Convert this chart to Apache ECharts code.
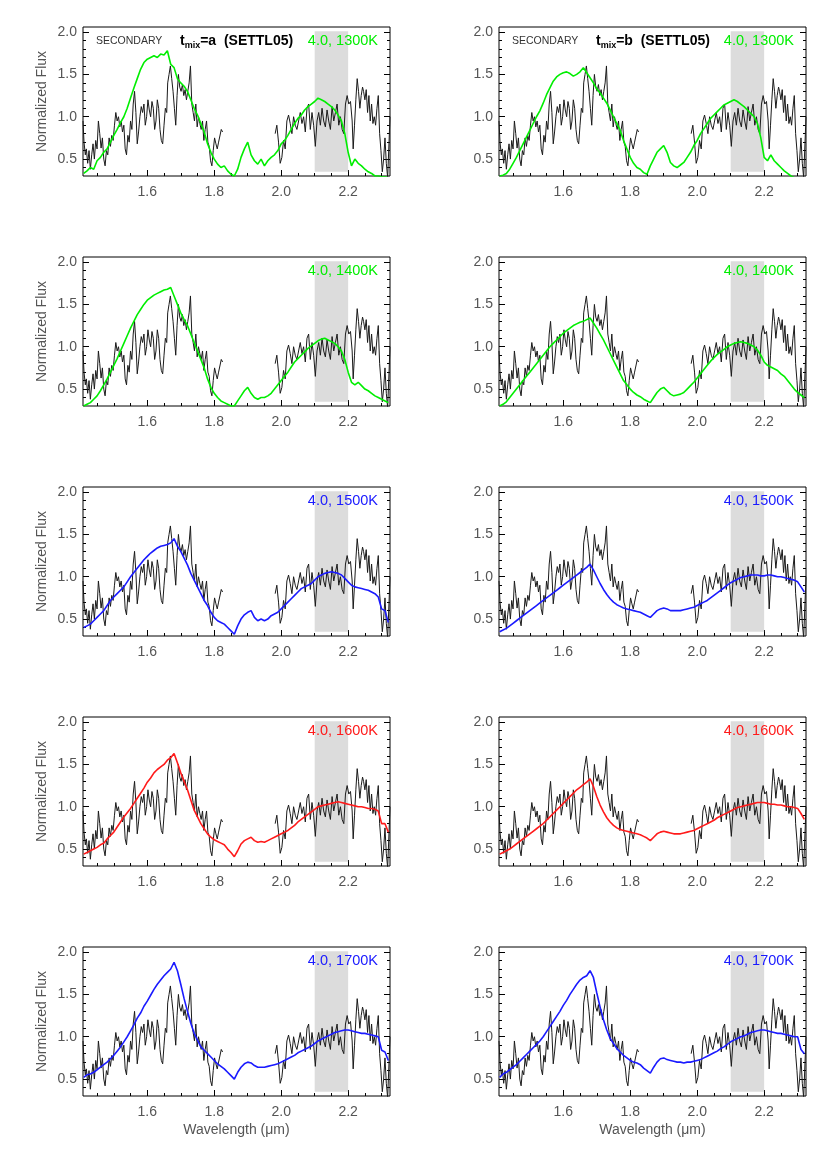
<!DOCTYPE html>
<html><head><meta charset="utf-8">
<script src="https://cdn.jsdelivr.net/npm/echarts@6/dist/echarts.min.js"></script>
<style>html,body{margin:0;padding:0;background:#fff}#c{width:830px;height:1150px}</style>
</head><body><div id="c"></div>
<script>
// ---------------- DATA ----------------
const xTickLabels = [1.6, 1.8, 2.0, 2.2];
const xMinorTicks = [1.45, 1.5, 1.55, 1.65, 1.7, 1.75, 1.85, 1.9, 1.95, 2.05, 2.1, 2.15, 2.25, 2.3];
const yTickLabels = [0.5, 1.0, 1.5, 2.0];
const yMinorTicks = [0.4, 0.6, 0.7, 0.8, 0.9, 1.1, 1.2, 1.3, 1.4, 1.6, 1.7, 1.8, 1.9];
const shadeBand = [2.1, 2.2];

// observed (secondary) spectrum, null = telluric gap
const obsWave = [1.408,1.411,1.415,1.418,1.422,1.426,1.430,1.434,1.438,1.442,1.446,1.450,1.454,1.458,1.462,1.466,1.470,1.474,1.478,1.482,1.486,1.490,1.494,1.498,1.502,1.506,1.510,1.514,1.518,1.522,1.526,1.530,1.534,1.538,1.542,1.546,1.550,1.554,1.558,1.562,1.566,1.570,1.574,1.578,1.582,1.586,1.590,1.594,1.598,1.602,1.606,1.610,1.614,1.618,1.622,1.626,1.630,1.634,1.638,1.642,1.646,1.650,1.654,1.658,1.661,1.665,1.669,1.673,1.677,1.681,1.685,1.689,1.693,1.697,1.701,1.705,1.709,1.713,1.717,1.721,1.725,1.729,1.733,1.737,1.741,1.745,1.749,1.753,1.757,1.761,1.765,1.769,1.773,1.777,1.781,1.785,1.789,1.793,1.797,1.801,1.805,1.809,1.813,1.817,1.821,1.825,
 1.900,
 1.982,1.987,1.992,1.997,2.002,2.007,2.012,2.017,2.022,2.027,2.032,2.037,2.042,2.047,2.052,2.057,2.062,2.067,2.072,2.077,2.082,2.087,2.092,2.097,2.102,2.107,2.112,2.117,2.122,2.127,2.132,2.137,2.142,2.147,2.152,2.157,2.162,2.167,2.172,2.177,2.182,2.187,2.192,2.197,2.202,2.207,2.212,2.215,2.219,2.223,2.227,2.231,2.235,2.239,2.243,2.246,2.250,2.254,2.258,2.262,2.266,2.270,2.274,2.278,2.282,2.286,2.290,2.294,2.298,2.302,2.306,2.310,2.314,2.318,2.322,2.325];
const obsFlux = [0.95,0.70,0.55,0.62,0.45,0.60,0.38,0.55,0.68,0.50,0.72,0.62,0.95,0.80,0.63,0.75,0.50,0.42,0.60,0.55,0.75,0.65,0.78,0.72,0.90,1.05,0.95,1.00,0.88,0.95,0.82,0.90,0.62,0.55,0.78,0.70,0.95,0.85,1.15,1.30,1.05,0.68,0.82,1.00,1.12,1.05,1.15,0.90,1.00,1.20,1.08,1.00,1.18,1.10,0.85,0.95,1.20,1.10,0.85,0.72,0.68,0.90,1.10,1.05,1.40,1.50,1.60,1.45,1.30,1.10,0.90,1.25,1.50,1.35,1.30,1.38,1.25,1.32,1.20,1.30,1.40,1.60,1.15,1.05,0.95,1.15,0.88,1.00,0.92,0.85,0.95,0.72,0.85,0.95,0.70,0.65,0.48,0.42,0.60,0.75,0.68,0.62,0.70,0.72,0.85,0.82,
 null,
 0.80,0.90,0.70,0.45,0.52,0.72,0.62,0.95,1.02,0.92,0.80,1.00,0.90,0.85,0.95,1.05,0.92,1.00,0.82,1.10,1.15,0.85,1.05,0.90,0.65,0.95,1.05,0.90,1.10,0.95,0.88,1.08,0.95,0.85,1.12,0.95,1.05,1.15,0.90,1.00,0.85,0.80,1.15,1.25,1.15,1.18,0.95,0.62,0.90,1.20,1.45,1.30,1.10,1.25,1.35,1.30,1.20,1.32,1.05,1.25,0.95,1.15,0.92,1.00,0.90,1.10,1.25,0.80,0.60,0.35,0.50,0.75,0.45,0.28,0.30,1.00];

// model wavelength grid
const modelWave = [1.41,1.42,1.43,1.44,1.45,1.46,1.47,1.48,1.49,1.50,1.51,1.52,1.53,1.54,1.55,1.56,1.57,1.58,1.59,1.60,1.61,1.62,1.63,1.64,1.65,1.66,1.67,1.68,1.69,1.70,1.71,1.72,1.73,1.74,1.75,1.76,1.77,1.78,1.79,1.80,1.81,1.82,1.83,1.84,1.85,1.86,1.87,1.88,1.89,1.90,1.91,1.92,1.93,1.94,1.95,1.96,1.97,1.98,1.99,2.00,2.01,2.02,2.03,2.04,2.05,2.06,2.07,2.08,2.09,2.10,2.11,2.12,2.13,2.14,2.15,2.16,2.17,2.18,2.19,2.20,2.21,2.22,2.23,2.24,2.25,2.26,2.27,2.28,2.29,2.30,2.31,2.32];

const modelA1300 = [0.33,0.36,0.40,0.38,0.48,0.52,0.58,0.62,0.70,0.78,0.85,0.93,1.00,1.10,1.22,1.34,1.45,1.56,1.64,1.68,1.70,1.72,1.70,1.74,1.73,1.78,1.62,1.58,1.45,1.40,1.36,1.30,1.20,1.10,1.02,0.92,0.82,0.68,0.58,0.50,0.44,0.40,0.42,0.36,0.32,0.30,0.38,0.52,0.62,0.70,0.55,0.48,0.44,0.50,0.42,0.48,0.52,0.55,0.60,0.68,0.72,0.78,0.85,0.92,0.98,1.02,1.08,1.12,1.15,1.18,1.22,1.20,1.18,1.15,1.12,1.08,1.02,0.95,0.80,0.58,0.42,0.50,0.45,0.42,0.38,0.35,0.33,0.30,0.30,0.29,0.29,0.28];
const modelB1300 = [0.30,0.31,0.33,0.38,0.45,0.52,0.60,0.68,0.76,0.84,0.92,1.00,1.07,1.16,1.26,1.34,1.42,1.47,1.50,1.52,1.53,1.51,1.48,1.50,1.53,1.58,1.52,1.46,1.40,1.33,1.28,1.22,1.16,1.08,1.00,0.92,0.84,0.72,0.62,0.52,0.45,0.40,0.38,0.34,0.32,0.42,0.50,0.58,0.62,0.66,0.58,0.46,0.42,0.40,0.43,0.46,0.52,0.58,0.66,0.72,0.80,0.86,0.92,0.98,1.02,1.06,1.10,1.14,1.16,1.18,1.20,1.18,1.15,1.12,1.08,1.04,1.00,0.92,0.75,0.52,0.48,0.55,0.48,0.44,0.40,0.36,0.33,0.30,0.28,0.28,0.28,0.28];
const modelA1400 = [0.30,0.32,0.34,0.38,0.42,0.48,0.55,0.62,0.70,0.78,0.86,0.95,1.04,1.13,1.22,1.30,1.38,1.44,1.50,1.55,1.58,1.61,1.63,1.65,1.67,1.68,1.70,1.60,1.50,1.40,1.32,1.25,1.15,1.05,0.95,0.85,0.75,0.62,0.52,0.45,0.40,0.36,0.34,0.32,0.30,0.30,0.36,0.42,0.48,0.52,0.45,0.40,0.38,0.40,0.40,0.42,0.45,0.50,0.55,0.60,0.65,0.70,0.76,0.82,0.86,0.90,0.94,0.98,1.01,1.04,1.07,1.09,1.10,1.08,1.06,1.04,1.00,0.95,0.85,0.70,0.58,0.55,0.58,0.54,0.50,0.48,0.45,0.42,0.40,0.38,0.36,0.34];
const modelB1400 = [0.30,0.32,0.35,0.40,0.45,0.50,0.55,0.60,0.65,0.70,0.75,0.80,0.85,0.90,0.95,1.00,1.04,1.08,1.12,1.16,1.19,1.22,1.25,1.27,1.29,1.30,1.32,1.34,1.28,1.22,1.15,1.08,1.00,0.92,0.84,0.76,0.68,0.60,0.55,0.50,0.46,0.43,0.41,0.38,0.36,0.34,0.40,0.46,0.50,0.52,0.48,0.44,0.42,0.43,0.44,0.46,0.50,0.54,0.58,0.63,0.68,0.73,0.78,0.83,0.87,0.91,0.94,0.97,1.00,1.02,1.04,1.05,1.06,1.05,1.04,1.02,1.00,0.96,0.90,0.82,0.78,0.76,0.74,0.72,0.68,0.65,0.60,0.55,0.50,0.46,0.43,0.40];
const modelA1500 = [0.40,0.42,0.44,0.48,0.52,0.56,0.60,0.66,0.72,0.76,0.80,0.84,0.88,0.94,1.00,1.05,1.10,1.15,1.20,1.24,1.28,1.31,1.34,1.36,1.37,1.38,1.40,1.45,1.36,1.30,1.22,1.14,1.04,0.96,0.88,0.80,0.72,0.66,0.58,0.52,0.48,0.46,0.44,0.40,0.36,0.32,0.42,0.50,0.55,0.58,0.60,0.52,0.48,0.50,0.48,0.50,0.54,0.56,0.58,0.62,0.66,0.70,0.74,0.78,0.82,0.86,0.88,0.90,0.92,0.96,1.00,1.02,1.04,1.05,1.06,1.05,1.04,1.02,0.98,0.94,0.90,0.88,0.87,0.86,0.85,0.84,0.82,0.80,0.76,0.62,0.60,0.46];
const modelB1500 = [0.35,0.37,0.39,0.42,0.45,0.48,0.51,0.54,0.57,0.60,0.63,0.66,0.69,0.72,0.75,0.78,0.81,0.84,0.87,0.90,0.93,0.96,0.99,1.02,1.05,1.08,1.11,1.15,1.08,1.00,0.92,0.85,0.79,0.74,0.70,0.67,0.65,0.63,0.62,0.61,0.60,0.59,0.58,0.56,0.54,0.52,0.56,0.60,0.62,0.63,0.62,0.60,0.60,0.60,0.60,0.61,0.62,0.63,0.64,0.66,0.68,0.70,0.72,0.75,0.78,0.81,0.84,0.87,0.90,0.93,0.95,0.97,0.99,1.00,1.01,1.02,1.02,1.02,1.01,1.01,1.02,1.02,1.01,1.00,1.00,0.99,0.98,0.97,0.96,0.94,0.88,0.82];
const modelA1600 = [0.44,0.46,0.48,0.50,0.52,0.55,0.57,0.62,0.66,0.70,0.76,0.82,0.88,0.93,0.98,1.04,1.10,1.16,1.22,1.29,1.34,1.40,1.44,1.47,1.50,1.55,1.58,1.63,1.52,1.40,1.30,1.20,1.08,0.96,0.88,0.80,0.74,0.68,0.64,0.61,0.59,0.57,0.55,0.50,0.46,0.41,0.48,0.56,0.60,0.62,0.64,0.60,0.58,0.59,0.58,0.60,0.62,0.64,0.66,0.68,0.70,0.72,0.75,0.78,0.82,0.85,0.88,0.91,0.94,0.97,1.00,1.01,1.02,1.03,1.04,1.05,1.06,1.05,1.04,1.03,1.02,1.01,1.00,1.00,0.99,0.98,0.98,0.97,0.95,0.80,0.80,0.70];
const modelB1600 = [0.44,0.46,0.48,0.50,0.53,0.56,0.59,0.62,0.65,0.68,0.71,0.74,0.77,0.80,0.84,0.88,0.92,0.96,1.00,1.04,1.08,1.12,1.16,1.20,1.23,1.26,1.29,1.33,1.24,1.12,1.02,0.94,0.87,0.82,0.78,0.75,0.73,0.72,0.71,0.70,0.69,0.68,0.67,0.65,0.63,0.60,0.64,0.68,0.70,0.71,0.70,0.69,0.68,0.68,0.68,0.69,0.70,0.71,0.72,0.74,0.76,0.78,0.80,0.82,0.84,0.87,0.89,0.91,0.93,0.95,0.97,0.99,1.00,1.01,1.02,1.03,1.04,1.05,1.05,1.05,1.04,1.03,1.03,1.02,1.02,1.01,1.00,1.00,0.99,0.98,0.92,0.85];
const modelA1700 = [0.52,0.55,0.56,0.58,0.61,0.64,0.67,0.70,0.74,0.78,0.83,0.88,0.94,1.00,1.07,1.14,1.22,1.28,1.36,1.42,1.49,1.56,1.62,1.67,1.72,1.76,1.80,1.88,1.78,1.62,1.45,1.30,1.16,1.04,0.96,0.88,0.84,0.80,0.76,0.72,0.68,0.65,0.62,0.58,0.54,0.50,0.58,0.64,0.68,0.70,0.69,0.66,0.64,0.64,0.64,0.65,0.66,0.67,0.68,0.70,0.72,0.74,0.76,0.78,0.81,0.83,0.85,0.87,0.89,0.92,0.95,0.97,0.99,1.01,1.03,1.05,1.06,1.07,1.08,1.08,1.07,1.06,1.05,1.04,1.04,1.03,1.02,1.01,1.00,0.84,0.82,0.72];
const modelB1700 = [0.52,0.56,0.58,0.61,0.64,0.67,0.71,0.75,0.79,0.83,0.87,0.91,0.95,1.00,1.06,1.12,1.18,1.24,1.30,1.37,1.43,1.50,1.56,1.62,1.67,1.70,1.72,1.78,1.70,1.52,1.35,1.20,1.08,0.98,0.92,0.86,0.82,0.78,0.75,0.72,0.70,0.69,0.67,0.63,0.60,0.57,0.64,0.70,0.74,0.75,0.73,0.72,0.71,0.70,0.70,0.69,0.70,0.70,0.71,0.72,0.73,0.75,0.77,0.79,0.81,0.83,0.86,0.88,0.91,0.94,0.96,0.98,1.00,1.01,1.03,1.05,1.06,1.07,1.08,1.08,1.07,1.06,1.05,1.04,1.04,1.03,1.02,1.01,1.00,1.00,0.85,0.80];

const panelModels = [modelA1300, modelB1300, modelA1400, modelB1400, modelA1500, modelB1500, modelA1600, modelB1600, modelA1700, modelB1700];
const panelLabels = ['4.0, 1300K','4.0, 1300K','4.0, 1400K','4.0, 1400K','4.0, 1500K','4.0, 1500K','4.0, 1600K','4.0, 1600K','4.0, 1700K','4.0, 1700K'];
const panelColors = ['#00ee00','#00ee00','#00ee00','#00ee00','#1a1aff','#1a1aff','#ff1a1a','#ff1a1a','#1a1aff','#1a1aff'];
const mixNames = ['a', 'b'];

// ---------------- LAYOUT ----------------
const FONT = "'Liberation Sans', Arial, Helvetica, sans-serif";
const colLeft = [83, 499];
const plotW = 307, plotH = 149, rowTop0 = 27, rowStep = 230;
const XMIN = 1.408, XMAX = 2.325, YMIN = 0.3, YMAX = 2.06;

const grids = [], xAxes = [], yAxes = [], series = [], graphics = [];
const obsData = obsWave.map((w, i) => [w, obsFlux[i] === null ? '-' : obsFlux[i]]);

for (let p = 0; p < 10; p++) {
  const row = Math.floor(p / 2), col = p % 2;
  const left = colLeft[col], top = rowTop0 + row * rowStep;
  grids.push({left: left, top: top, width: plotW, height: plotH, show: true,
    borderColor: '#000', borderWidth: 1, backgroundColor: 'transparent'});
  const xi = xAxes.length;
  const bottomRow = row === 4;
  xAxes.push({gridIndex: p, type: 'value', min: XMIN, max: XMAX, position: 'bottom',
    axisLine: {show: false}, splitLine: {show: false},
    axisTick: {show: true, inside: true, length: 6, customValues: xTickLabels, lineStyle: {color: '#000', width: 1}},
    axisLabel: {show: true, customValues: xTickLabels, formatter: v => v.toFixed(1), margin: 9,
      fontSize: 14, color: '#555', fontFamily: FONT},
    name: bottomRow ? 'Wavelength (\u03bcm)' : '', nameLocation: 'middle', nameGap: 27,
    nameTextStyle: {fontSize: 14, color: '#555', fontFamily: FONT}
  });
  xAxes.push({gridIndex: p, type: 'value', min: XMIN, max: XMAX, position: 'bottom',
    axisLine: {show: false}, splitLine: {show: false}, axisLabel: {show: false},
    axisTick: {show: true, inside: true, length: 3, customValues: xMinorTicks, lineStyle: {color: '#000', width: 1}}
  });
  const yi = yAxes.length;
  yAxes.push({gridIndex: p, type: 'value', min: YMIN, max: YMAX, position: 'left',
    axisLine: {show: false}, splitLine: {show: false},
    axisTick: {show: true, inside: true, length: 6, customValues: yTickLabels, lineStyle: {color: '#000', width: 1}},
    axisLabel: {show: true, customValues: yTickLabels, formatter: v => v.toFixed(1), margin: 6,
      fontSize: 14, color: '#555', fontFamily: FONT},
    name: col === 0 ? 'Normalized Flux' : '', nameLocation: 'middle', nameGap: 34,
    nameTextStyle: {fontSize: 14, color: '#555', fontFamily: FONT}
  });
  yAxes.push({gridIndex: p, type: 'value', min: YMIN, max: YMAX, position: 'left',
    axisLine: {show: false}, splitLine: {show: false}, axisLabel: {show: false},
    axisTick: {show: true, inside: true, length: 3, customValues: yMinorTicks, lineStyle: {color: '#000', width: 1}}
  });
  yAxes.push({gridIndex: p, type: 'value', min: YMIN, max: YMAX, position: 'right',
    axisLine: {show: false}, splitLine: {show: false}, axisLabel: {show: false},
    axisTick: {show: true, inside: true, length: 6, customValues: yTickLabels, lineStyle: {color: '#000', width: 1}}
  });
  yAxes.push({gridIndex: p, type: 'value', min: YMIN, max: YMAX, position: 'right',
    axisLine: {show: false}, splitLine: {show: false}, axisLabel: {show: false},
    axisTick: {show: true, inside: true, length: 3, customValues: yMinorTicks, lineStyle: {color: '#000', width: 1}}
  });

  // shaded band
  series.push({type: 'line', xAxisIndex: xi, yAxisIndex: yi, data: [[shadeBand[0], 1]], symbol: 'none',
    lineStyle: {width: 0}, silent: true, z: 1, animation: false,
    markArea: {silent: true, itemStyle: {color: '#dcdcdc'},
      data: [[{coord: [shadeBand[0], 0.35]}, {coord: [shadeBand[1], 2.01]}]]}
  });
  // observed
  series.push({type: 'line', xAxisIndex: xi, yAxisIndex: yi, data: obsData, symbol: 'none',
    connectNulls: false, lineStyle: {color: '#1a1a1a', width: 1}, z: 2, animation: false, clip: true});
  // model
  series.push({type: 'line', xAxisIndex: xi, yAxisIndex: yi,
    data: modelWave.map((w, i) => [w, panelModels[p][i]]), symbol: 'none',
    lineStyle: {color: panelColors[p], width: 1.6}, z: 3, animation: false, clip: true});

  // texts
  graphics.push({type: 'text', x: left + plotW - 12, y: top + 14, z: 10,
    style: {text: panelLabels[p], fill: panelColors[p], font: '14.5px ' + FONT,
      align: 'right', textAlign: 'right', verticalAlign: 'middle', textVerticalAlign: 'middle'}});
  if (row === 0) {
    graphics.push({type: 'text', x: left + 13, y: top + 14, z: 10,
      style: {text: 'SECONDARY', fill: '#333', font: '10.5px ' + FONT,
        align: 'left', textAlign: 'left', verticalAlign: 'middle', textVerticalAlign: 'middle'}});
    graphics.push({type: 'text', x: left + 97, y: top + 14, z: 10,
      style: {text: '{b|t}{s|mix}{b|=' + mixNames[col] + '  (SETTL05)}',
        align: 'left', textAlign: 'left', verticalAlign: 'middle', textVerticalAlign: 'middle',
        rich: {b: {font: 'bold 14px ' + FONT, fill: '#000', color: '#000', lineHeight: 18, verticalAlign: 'middle'},
               s: {font: 'bold 9px ' + FONT, fill: '#000', color: '#000', lineHeight: 18, verticalAlign: 'bottom'}}}});
  }
}

const chart = echarts.init(document.getElementById('c'), null, {renderer: 'canvas'});
chart.setOption({animation: false, backgroundColor: '#fff', grid: grids, xAxis: xAxes, yAxis: yAxes,
  series: series, graphic: graphics});
</script></body></html>
